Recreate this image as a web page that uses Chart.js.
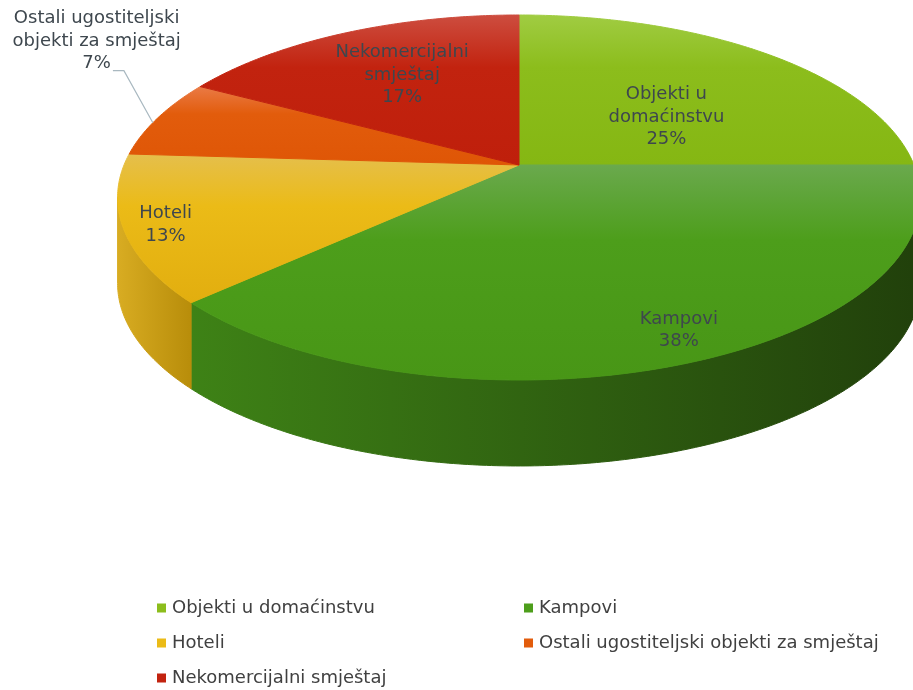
<!DOCTYPE html>
<html>
<head>
<meta charset="utf-8">
<script src="https://cdn.jsdelivr.net/npm/chart.js@4/dist/chart.umd.min.js"></script>
<style>
  body { margin: 0; background: #fff; }
  #wrap { position: relative; width: 913px; height: 690px; }
</style>
</head>
<body>
<div id="wrap"><canvas id="myChart" width="913" height="690"></canvas></div>
<script>
// data (percent of total)
const categories = ['Objekti u domaćinstvu', 'Kampovi', 'Hoteli', 'Ostali ugostiteljski objekti za smještaj', 'Nekomercijalni smještaj'];
const values = [25, 38, 13, 7, 17];
const labelLines = [['Objekti u', 'domaćinstvu'], ['Kampovi'], ['Hoteli'], ['Ostali ugostiteljski', 'objekti za smještaj'], ['Nekomercijalni', 'smještaj']];

// styles
const baseColors = ['#8cbd1c', '#4d9e1b', '#ebbb17', '#e25c0c', '#c2230f'];
const topLight = ['#a0cc42', '#6aa94d', '#e5bf4c', '#ea7a45', '#cd4d3f'];
const bottomDark = ['#85b713', '#489616', '#e2ae0f', '#df5606', '#bf1f0b'];
const sideLight = ['#6f9a12', '#3e8216', '#d8ac22', '#c04a08', '#9a1a0a'];
const sideDark = ['#5b800e', '#21400b', '#b88d0a', '#9a3a06', '#7a1408'];
const labelRadius = [0.5, 0.85, 0.88, 1, 0.62];
const labelNudge = [[16, 11], [16, 3], [-8, 4], [-61, -77], [-3, -4]];

// fake perspective view of the pie top
const view = { cx: 519, cy: 165, rx: 395, A: 176.7, B: 0.178, depth: 86 };

function proj(a, f) {
  const u = Math.cos(a) * f, v = Math.sin(a) * f;
  const d = 1 - view.B * v;
  return [view.cx + view.rx * u / d, view.cy + view.A * v / d];
}

function sample(s, e, f) {
  const n = Math.max(2, Math.ceil((e - s) / 0.01));
  const pts = [];
  for (let k = 0; k <= n; k++) pts.push(proj(s + (e - s) * k / n, f));
  return pts;
}

const pie3d = {
  id: 'pie3d',
  beforeDatasetsDraw(chart) {
    const ctx = chart.ctx;
    const arcs = chart.getDatasetMeta(0).data;
    const th0 = Math.asin(view.B);

    // side walls
    arcs.forEach((arc, i) => {
      const s = Math.max(arc.startAngle, th0);
      const e = Math.min(arc.endAngle, Math.PI - th0);
      if (s >= e) return;
      const pts = sample(s, e, 1);
      const xs = pts.map(p => p[0]);
      const g = ctx.createLinearGradient(Math.min(...xs), 0, Math.max(...xs), 0);
      g.addColorStop(0, sideLight[i]);
      g.addColorStop(1, sideDark[i]);
      ctx.beginPath();
      pts.forEach((p, k) => k ? ctx.lineTo(p[0], p[1]) : ctx.moveTo(p[0], p[1]));
      for (let k = pts.length - 1; k >= 0; k--) ctx.lineTo(pts[k][0], pts[k][1] + view.depth);
      ctx.closePath();
      ctx.fillStyle = g;
      ctx.strokeStyle = g;
      ctx.lineWidth = 1;
      ctx.fill();
      ctx.stroke();
    });

    // top faces
    arcs.forEach((arc, i) => {
      const pts = sample(arc.startAngle, arc.endAngle, 1);
      const ys = pts.map(p => p[1]).concat([view.cy]);
      const g = ctx.createLinearGradient(0, Math.min(...ys), 0, Math.max(...ys));
      g.addColorStop(0, topLight[i]);
      g.addColorStop(0.35, baseColors[i]);
      g.addColorStop(1, bottomDark[i]);
      ctx.beginPath();
      ctx.moveTo(view.cx, view.cy);
      pts.forEach(p => ctx.lineTo(p[0], p[1]));
      ctx.closePath();
      ctx.fillStyle = g;
      ctx.strokeStyle = g;
      ctx.lineWidth = 1;
      ctx.fill();
      ctx.stroke();
    });
    return false;
  },
  afterDraw(chart) {
    const ctx = chart.ctx;
    const arcs = chart.getDatasetMeta(0).data;
    const total = values.reduce((a, b) => a + b, 0);
    ctx.save();
    ctx.font = '18px "DejaVu Sans"';
    ctx.textAlign = 'center';
    ctx.textBaseline = 'middle';
    arcs.forEach((arc, i) => {
      const mid = (arc.startAngle + arc.endAngle) / 2;
      const p = proj(mid, labelRadius[i]);
      const x = p[0] + labelNudge[i][0], y = p[1] + labelNudge[i][1];
      const lines = labelLines[i].concat([Math.round(values[i] / total * 100) + '%']);
      const y0 = y - (lines.length - 1) * 11.3;
      ctx.fillStyle = '#3e474e';
      lines.forEach((t, k) => ctx.fillText(t, x, y0 + k * 22.6));
      if (labelRadius[i] >= 1) {
        // leader line for the outside label
        const lastY = y0 + (lines.length - 1) * 22.6;
        const w = ctx.measureText(lines[lines.length - 1]).width;
        const edge = proj(mid - 0.03, 1.0);
        ctx.strokeStyle = '#a9b8c0';
        ctx.lineWidth = 1.2;
        ctx.beginPath();
        ctx.moveTo(x + w / 2 + 2, lastY + 7);
        ctx.lineTo(x + w / 2 + 13, lastY + 7);
        ctx.lineTo(edge[0], edge[1]);
        ctx.stroke();
      }
    });

    // legend, two columns
    ctx.textAlign = 'left';
    categories.forEach((c, i) => {
      const col = i % 2, row = Math.floor(i / 2);
      const x = col ? 524 : 157;
      const y = 608 + row * 35;
      ctx.fillStyle = baseColors[i];
      ctx.fillRect(x, y - 4.5, 9, 9);
      ctx.fillStyle = '#404040';
      ctx.fillText(c, x + 15, y);
    });
    ctx.restore();
  }
};

const ctx = document.getElementById('myChart');

new Chart(ctx, {
  type: 'pie',
  data: {
    labels: categories,
    datasets: [{
      data: values,
      backgroundColor: baseColors,
      borderWidth: 0
    }]
  },
  options: {
    responsive: false,
    animation: false,
    plugins: {
      legend: { display: false },
      tooltip: { enabled: false }
    }
  },
  plugins: [pie3d]
});
</script>
</body>
</html>
